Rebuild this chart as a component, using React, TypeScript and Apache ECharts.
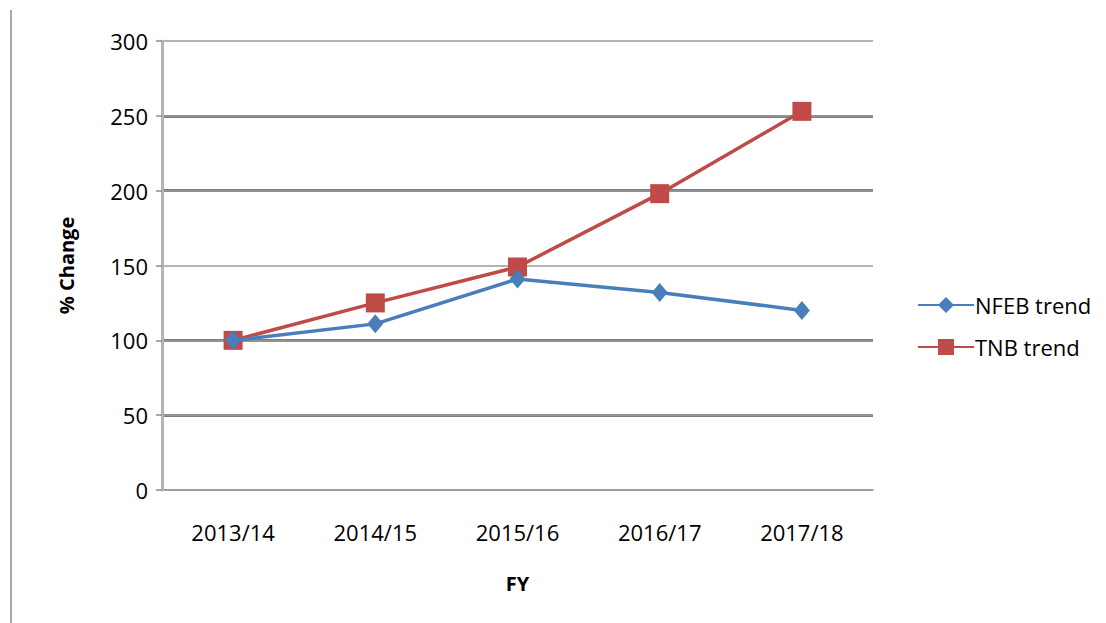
import React, { useEffect, useRef } from "react";
import * as echarts from "echarts";

const categories = ["2013/14", "2014/15", "2015/16", "2016/17", "2017/18"];
const nfebTrend = [100, 111, 141, 132, 120];
const tnbTrend = [100, 125, 149, 198, 253];
const yTicks = { min: 0, max: 300, interval: 50 };

const FONT = "'Open Sans', 'Liberation Sans', sans-serif";

export default function App() {
  const ref = useRef<HTMLDivElement>(null);
  useEffect(() => {
    document.body.style.margin = "0";
    const chart = echarts.init(ref.current!, null, { renderer: "svg" });
    chart.setOption({
      animation: false,
      backgroundColor: "#ffffff",
      textStyle: { fontFamily: FONT },
      grid: { left: 162, right: 233, top: 41, bottom: 133 },
      graphic: [
        {
          type: "line",
          shape: { x1: 11, y1: 10, x2: 11, y2: 623 },
          style: { stroke: "#a8a8a8", lineWidth: 2 },
        },
      ],
      legend: {
        orient: "vertical",
        left: 912,
        top: 289,
        itemWidth: 56,
        itemHeight: 20,
        itemGap: 20,
        textStyle: {
          fontSize: 22,
          lineHeight: 22,
          color: "#000",
          fontFamily: FONT,
          padding: [0, 0, 0, -4],
        },
        data: ["NFEB trend", "TNB trend"],
      },
      xAxis: {
        type: "category",
        data: categories,
        boundaryGap: true,
        name: "FY",
        nameLocation: "middle",
        nameGap: 83,
        nameTextStyle: { fontSize: 20, fontWeight: "bold", color: "#000", fontFamily: FONT },
        axisLine: { lineStyle: { color: "#8c8c8c", width: 1.5 } },
        axisTick: { show: false },
        axisLabel: { fontSize: 22, lineHeight: 22, color: "#000", margin: 31, fontFamily: FONT },
      },
      yAxis: [
        {
          type: "value",
          min: yTicks.min,
          max: yTicks.max,
          interval: yTicks.interval,
          name: "% Change",
          nameLocation: "middle",
          nameGap: 86,
          nameRotate: 90,
          nameTextStyle: { fontSize: 20, fontWeight: "bold", color: "#000", fontFamily: FONT },
          axisLine: { show: true, lineStyle: { color: "#b4b4b4", width: 3 } },
          axisTick: { show: true, length: 6, lineStyle: { color: "#8c8c8c", width: 1.5 } },
          axisLabel: { fontSize: 22, color: "#000", margin: 14, fontFamily: FONT },
          splitLine: { lineStyle: { color: "#9a9a9a", width: 1.5 } },
          z: 2,
        },
        {
          type: "value",
          min: yTicks.min,
          max: yTicks.max,
          interval: yTicks.interval,
          position: "left",
          axisLine: { show: false },
          axisTick: { show: false },
          axisLabel: { show: false },
          splitLine: {
            lineStyle: {
              color: [
                "rgba(0,0,0,0)",
                "#7d7d7d",
                "#7d7d7d",
                "rgba(0,0,0,0)",
                "#7d7d7d",
                "#7d7d7d",
                "rgba(0,0,0,0)",
              ],
              width: 3,
            },
          },
          z: 1,
        },
      ],
      series: [
        {
          name: "NFEB trend",
          type: "line",
          data: nfebTrend,
          symbol: "diamond",
          symbolSize: [16, 19],
          lineStyle: { color: "#4a7ebb", width: 3.5 },
          itemStyle: { color: "#4a7ebb" },
          z: 4,
        },
        {
          name: "TNB trend",
          type: "line",
          data: tnbTrend,
          symbol: "rect",
          symbolSize: 19,
          lineStyle: { color: "#be4b48", width: 3.5 },
          itemStyle: { color: "#be4b48" },
          z: 3,
        },
      ],
    });
    return () => chart.dispose();
  }, []);
  return <div ref={ref} style={{ width: 1106, height: 623 }} />;
}
